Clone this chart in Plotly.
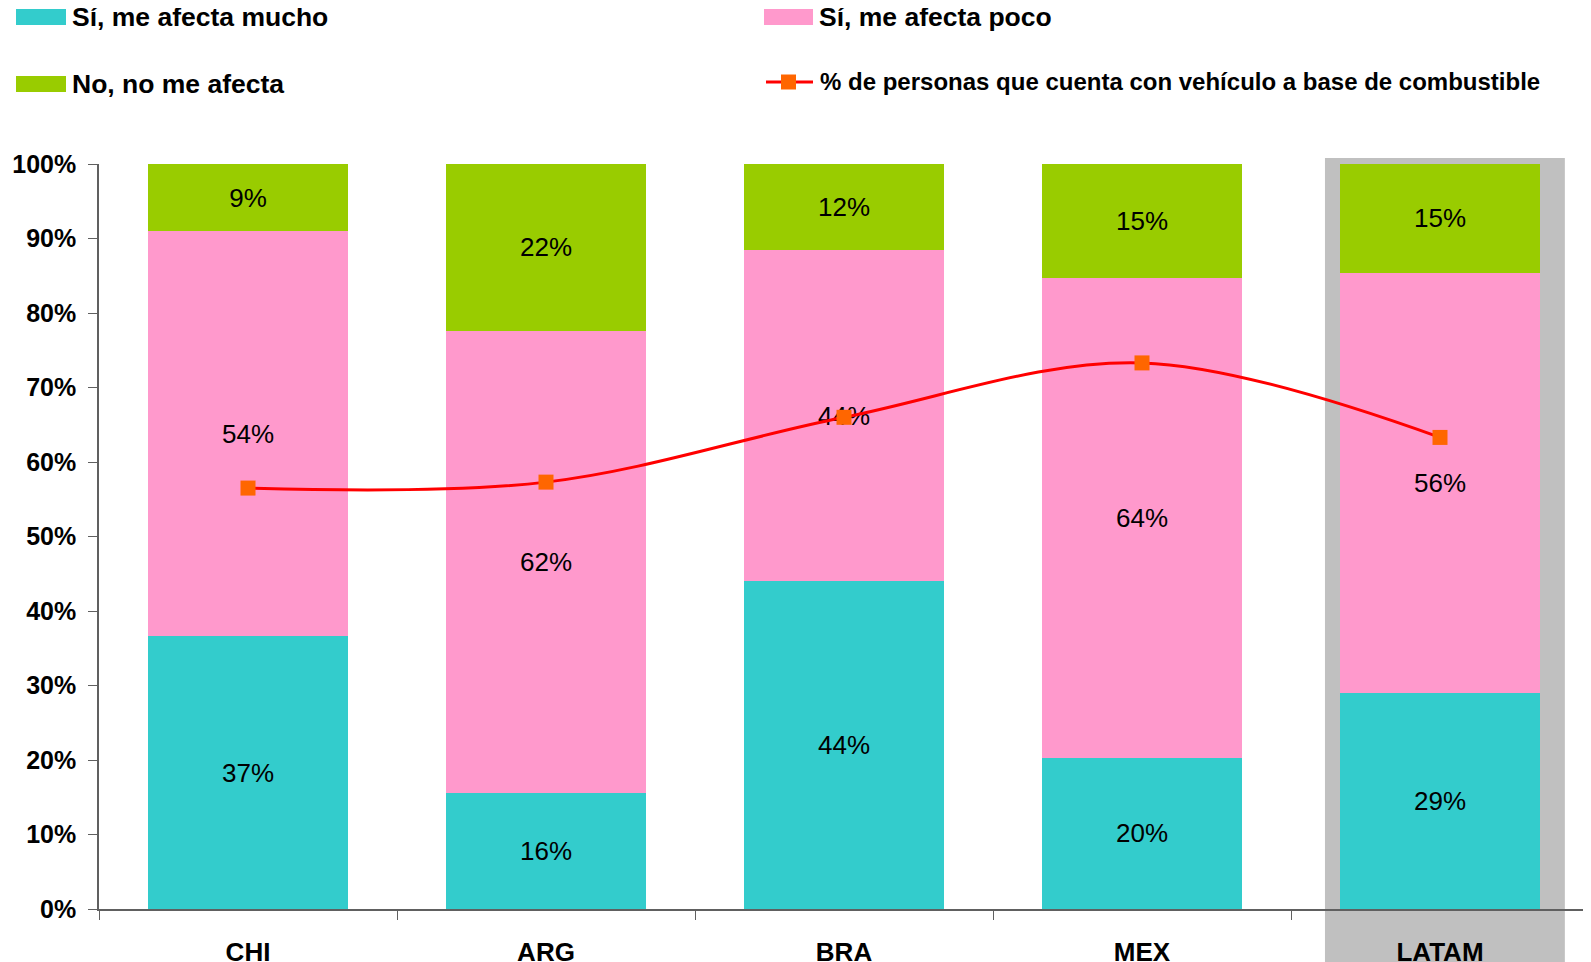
import plotly.graph_objects as go

categories = ["CHI", "ARG", "BRA", "MEX", "LATAM"]
mucho = [36.6, 15.6, 44.0, 20.3, 29.0]
poco = [54.4, 62.0, 44.4, 64.4, 56.4]
no_afecta = [9.0, 22.4, 11.6, 15.3, 14.6]
vehiculo = [56.5, 57.3, 66.0, 73.3, 63.3]

names = ["Sí, me afecta mucho", "Sí, me afecta poco", "No, no me afecta",
         "% de personas que cuenta con vehículo a base de combustible"]
colors = ["#33CCCC", "#FF99CC", "#99CC00"]
line_color = "#FF0000"
marker_color = "#FF6600"
highlight = "LATAM"

OFF = 8  # page body margin
W, H = 1591 - OFF, 962 - OFF
L, R, T, B = 91, 2, 156, 53
PW, PH = W - L - R, H - T - B


def px(x):  # page pixel -> paper x
    return (x - OFF - L) / PW


def py(y):  # page pixel -> paper y
    return (H - B - (y - OFF)) / PH


fig = go.Figure()
for vals, name, col in zip([mucho, poco, no_afecta], names[:3], colors):
    fig.add_trace(go.Bar(
        x=categories, y=vals, name=name, marker=dict(color=col, line=dict(width=0)),
        texttemplate="%{y:.0f}%", textposition="inside", insidetextanchor="middle",
        textangle=0, insidetextfont=dict(family="Arial", size=26, color="black"),
        showlegend=False, hoverinfo="skip"))

fig.add_trace(go.Scatter(
    x=categories, y=vehiculo, name=names[3], mode="lines+markers",
    line=dict(color=line_color, width=3, shape="spline", smoothing=1),
    marker=dict(symbol="square", size=15, color=marker_color),
    showlegend=False))

# highlight box around LATAM category
n = len(categories)
idx = categories.index(highlight)
shapes = [dict(type="rect", xref="x domain", yref="paper",
               x0=(idx + 0.5 - 0.386) / n, x1=(idx + 0.5 + 0.419) / n,
               y0=py(962), y1=py(158), fillcolor="#C0C0C0",
               line=dict(width=0), layer="below")]

# custom legend
legend_items = [
    (16, 66, 17, colors[0], names[0], 26.5),
    (764, 813, 17, colors[1], names[1], 26.5),
    (16, 66, 84, colors[2], names[2], 26.5),
]
annotations = []
for x0, x1, yc, col, name, fs in legend_items:
    shapes.append(dict(type="rect", xref="paper", yref="paper",
                       x0=px(x0), x1=px(x1), y0=py(yc - 8), y1=py(yc + 8),
                       fillcolor=col, line=dict(width=0)))
    annotations.append(dict(xref="paper", yref="paper", x=px(x1 + 4), y=py(yc),
                            xanchor="left", yanchor="middle", showarrow=False,
                            text=name, font=dict(family="Arial", size=fs, color="black",
                                                 weight="bold")))
# line legend item
shapes.append(dict(type="line", xref="paper", yref="paper", x0=px(766), x1=px(813),
                   y0=py(82), y1=py(82), line=dict(color=line_color, width=3)))
shapes.append(dict(type="rect", xref="paper", yref="paper", x0=px(781), x1=px(796),
                   y0=py(89.5), y1=py(74.5), fillcolor=marker_color, line=dict(width=0)))
annotations.append(dict(xref="paper", yref="paper", x=px(818), y=py(82),
                        xanchor="left", yanchor="middle", showarrow=False,
                        text=names[3], font=dict(family="Arial", size=24, color="black",
                                                 weight="bold")))

fig.update_layout(
    width=W, height=H,
    margin=dict(l=L, r=R, t=T, b=B, pad=0, autoexpand=False),
    barmode="stack", bargap=0.332,
    plot_bgcolor="white", paper_bgcolor="white",
    shapes=shapes, annotations=annotations,
    xaxis=dict(type="category", showline=True, linecolor="#606060", linewidth=1.5,
               ticks="outside", ticklen=9, tickcolor="#606060", tickson="boundaries",
               tickfont=dict(family="Arial", size=26, color="black", weight="bold"),
               ticklabelstandoff=19, showgrid=False, zeroline=False, automargin=False),
    yaxis=dict(range=[0, 100], dtick=10, ticksuffix="%", showline=True,
               linecolor="#606060", linewidth=1.5, ticks="outside", ticklen=9,
               tickcolor="#606060", showgrid=False, zeroline=False, automargin=False,
               tickfont=dict(family="Arial", size=25, color="black", weight="bold"),
               ticklabelstandoff=7),
)

fig.write_html("out.html")
